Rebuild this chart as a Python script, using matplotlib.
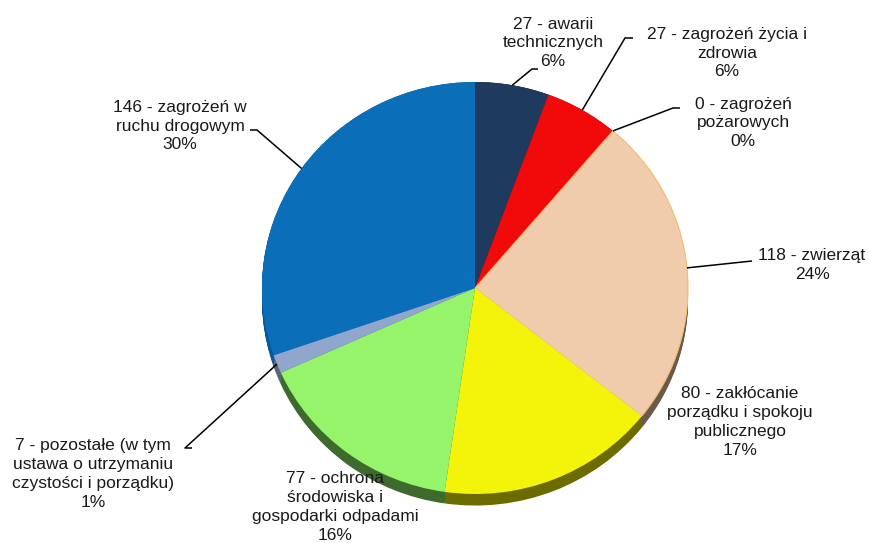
import matplotlib
matplotlib.use('Agg')
import matplotlib.pyplot as plt
import numpy as np

plt.rcParams['font.family'] = ['Liberation Sans', 'DejaVu Sans']

categories = ["awarii\ntechnicznych", "zagrożeń życia i\nzdrowia", "zagrożeń\npożarowych",
              "zwierząt", "zakłócanie\nporządku i spokoju\npublicznego",
              "ochrona\nśrodowiska i\ngospodarki odpadami",
              "pozostałe (w tym\nustawa o utrzymaniu\nczystości i porządku)",
              "zagrożeń w\nruchu drogowym"]
values = [27, 27, 0, 118, 80, 77, 7, 146]
colors = ["#1F3A5F", "#F20A0A", "#F0CCAD", "#F0CCAD", "#F4F40A", "#95F46A", "#90A6CC", "#0A6EB8"]
side_colors = ["#0F1D30", "#7A0505", "#6B5A4C", "#6B5A4C", "#6B6B00", "#3E6A2E", "#5A6578", "#0858A0"]

W, H = 869, 543
CX, CY = 475, 288          # pie centre in pixels (from top-left)
RX, RY = 213, 206          # radii in pixels

fig = plt.figure(figsize=(W / 100, H / 100), dpi=100)
ax = fig.add_axes([0, 0, 1, 1])
ax.axis('off')

def px(x, y):
    return (x - CX) / RX, (CY - y) / RY

# 3D side
for dy in np.linspace(-0.056, 0, 14):
    ax.pie(values, startangle=90, counterclock=False, radius=1, center=(0.0, dy),
           colors=side_colors, wedgeprops=dict(linewidth=0))
wedges, _ = ax.pie(values, startangle=90, counterclock=False, radius=1, center=(0, 0),
                   colors=colors, wedgeprops=dict(linewidth=0))
wedges[3].set_edgecolor('#F2C070')
wedges[3].set_linewidth(0.8)

ax.set_aspect('auto')
ax.set_xlim(-CX / RX, (W - CX) / RX)
ax.set_ylim(-(H - CY) / RY, CY / RY)

total = sum(values)
# label centre positions (pixels) and leader elbows (pixels) — layout only
label_pos = [(553, 43), (727, 53), (743, 123), (812, 265), (740, 422), (335, 507), (93, 474), (180, 126)]
elbows = [(538, 69), (633, 38), (680, 108), (752, 261), None, None, (192, 448), (250, 130)]
elbow_end = [(532, 69), (625, 38), (673, 108), (752, 261), None, None, (185, 448), (257, 130)]

cum = 0
for i, v in enumerate(values):
    pct = round(v / total * 100)
    text = f"{v} - {categories[i]}\n{pct}%"
    lx, ly = px(*label_pos[i])
    ax.text(lx, ly, text, ha='center', va='center', fontsize=12.5, color='#1A1A1A', linespacing=1.33)
    mid = np.deg2rad(90 - (cum + v / 2) / total * 360)
    cum += v
    if elbows[i] is not None:
        ax0, ay0 = np.cos(mid), np.sin(mid)
        ex, ey = px(*elbows[i])
        fx, fy = px(*elbow_end[i])
        ax.plot([ax0, fx, ex], [ay0, fy, ey], color='black', lw=1.1, solid_capstyle='butt')

fig.savefig('out.png', dpi=100, facecolor='white')
